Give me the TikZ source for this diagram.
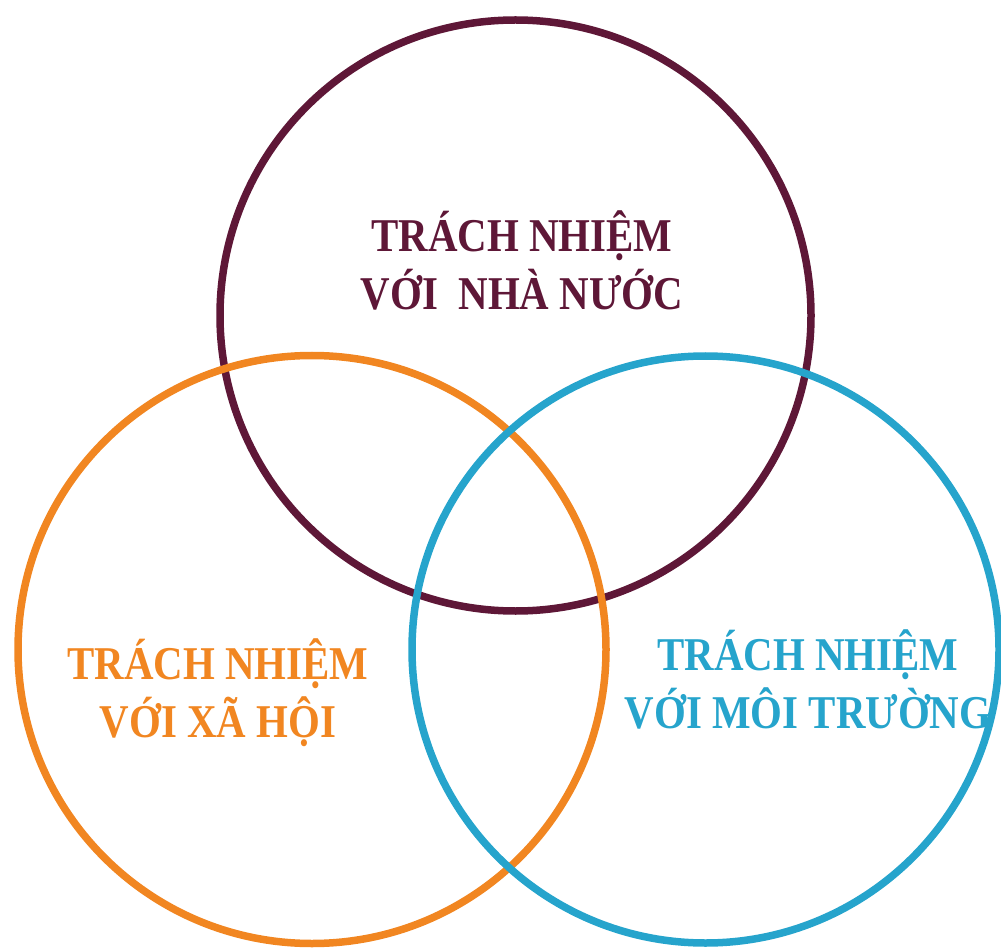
\documentclass[tikz,border=0pt]{standalone}
\usepackage{fontspec}
\setmainfont{Liberation Serif}[FakeStretch=0.87]
\usetikzlibrary{positioning}
\definecolor{nhanuoc}{RGB}{94,23,55}
\definecolor{xahoi}{RGB}{241,134,33}
\definecolor{moitruong}{RGB}{38,164,204}

\begin{document}
\begin{tikzpicture}[x=1pt,y=-1pt,line width=7.5pt,
		venntext/.style={align=center,anchor=base,font=\fontsize{47}{58}\selectfont\bfseries}]
		\useasboundingbox (0,0) rectangle (1001,949);
		\coordinate (c_0) at (515.5,315.5);
		\coordinate (c_1) at (312,649.5);
		\coordinate (c_2) at (705.5,649.5);
		\draw[nhanuoc] (c_0) circle[radius=295.5pt];
		\draw[xahoi] (c_1) circle[radius=294pt];
		\draw[moitruong] (c_2) circle[radius=293.5pt];
		\node[venntext,text=nhanuoc] (t_0) at (522,310) {TRÁCH NHIỆM\\VỚI~~NHÀ NƯỚC};
		\node[venntext,text=xahoi] (t_1) at (218,737) {TRÁCH NHIỆM\\VỚI XÃ HỘI};
		\node[venntext,text=moitruong] (t_2) at (808,728) {TRÁCH NHIỆM\\VỚI MÔI TRƯỜNG};
	\end{tikzpicture}
\end{document}
